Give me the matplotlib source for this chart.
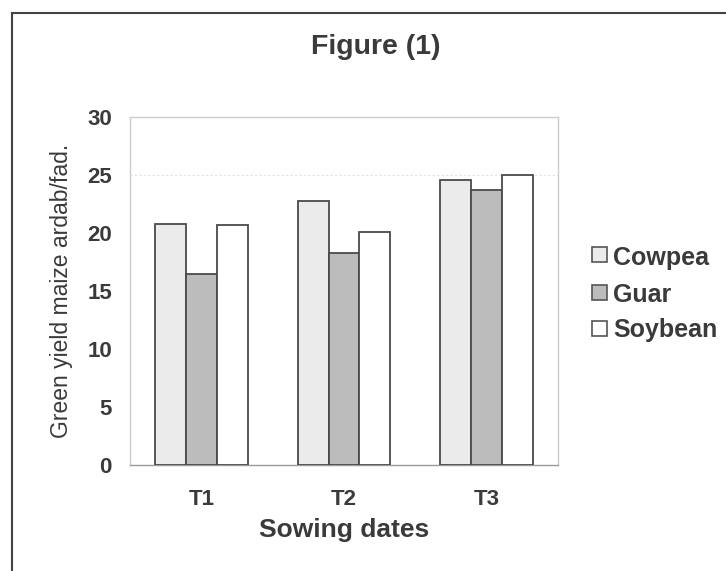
import matplotlib
matplotlib.use('Agg')
import matplotlib.pyplot as plt
from matplotlib.lines import Line2D
from matplotlib.patches import Rectangle
import numpy as np

plt.rcParams['font.family'] = ['Liberation Sans', 'DejaVu Sans']

dates = ['T1', 'T2', 'T3']
crops = ['Cowpea', 'Guar', 'Soybean']
cowpea = [20.8, 22.8, 24.6]
guar = [16.5, 18.3, 23.7]
soybean = [20.7, 20.1, 25.0]
y_ticks = [0, 5, 10, 15, 20, 25, 30]

fills = ['#ebebeb', '#bcbcbc', '#ffffff']
txt = '#3a3a3a'

fig = plt.figure(figsize=(7.26, 5.71), dpi=100)
W, H = 726.0, 571.0
ax = fig.add_axes([130 / W, 1 - 465 / H, 428 / W, 348 / H])

x = np.arange(len(dates))
w = 0.217
for i, (vals, fc) in enumerate(zip([cowpea, guar, soybean], fills)):
    ax.bar(x + (i - 1) * w, vals, width=w, color=fc, edgecolor='#4a4a4a',
           linewidth=1.3, zorder=3)

ax.axhline(25, color='#e2e2e2', lw=0.8, ls=(0, (2, 2)), zorder=1)

ax.set_xlim(-0.5, 2.5)
ax.set_ylim(0, 30)
ax.set_yticks(y_ticks)
ax.set_xticks(x)
ax.set_xticklabels(dates)
ax.tick_params(axis='y', length=0, labelsize=16, colors=txt, pad=13)
ax.tick_params(axis='x', length=0, labelsize=16, colors=txt, pad=17)
for lab in ax.get_xticklabels() + ax.get_yticklabels():
    lab.set_fontweight('bold')

for s in ax.spines.values():
    s.set_color('#cccccc')
    s.set_linewidth(1.0)
ax.spines['bottom'].set_color('#999999')

ax.set_ylabel('Green yield maize ardab/fad.', fontsize=16.5, color=txt, labelpad=10)
ax.set_xlabel('Sowing dates', fontsize=19, fontweight='bold', color=txt, labelpad=6)

fig.text(376 / W, 1 - 47 / H, 'Figure (1)', fontsize=20.5, fontweight='bold', color=txt,
         ha='center', va='center')

# legend drawn by hand to sit like the original
row_y = [255, 292, 328]
for name, fc, yy in zip(crops, fills, row_y):
    fig.add_artist(Rectangle((592 / W, 1 - (yy + 7.5) / H), 15 / W, 15 / H,
                             facecolor=fc, edgecolor='#555555', lw=1.2,
                             transform=fig.transFigure))
    fig.text(613 / W, 1 - yy / H, name, fontsize=18, fontweight='bold', color=txt,
             ha='left', va='center_baseline')

# outer page frame
fig.add_artist(Line2D([12 / W, 1.0], [1 - 13 / H, 1 - 13 / H], color='#444444', lw=1.5,
                      transform=fig.transFigure))
fig.add_artist(Line2D([12 / W, 12 / W], [0.0, 1 - 13 / H], color='#444444', lw=1.5,
                      transform=fig.transFigure))

fig.savefig('out.png', dpi=100)
